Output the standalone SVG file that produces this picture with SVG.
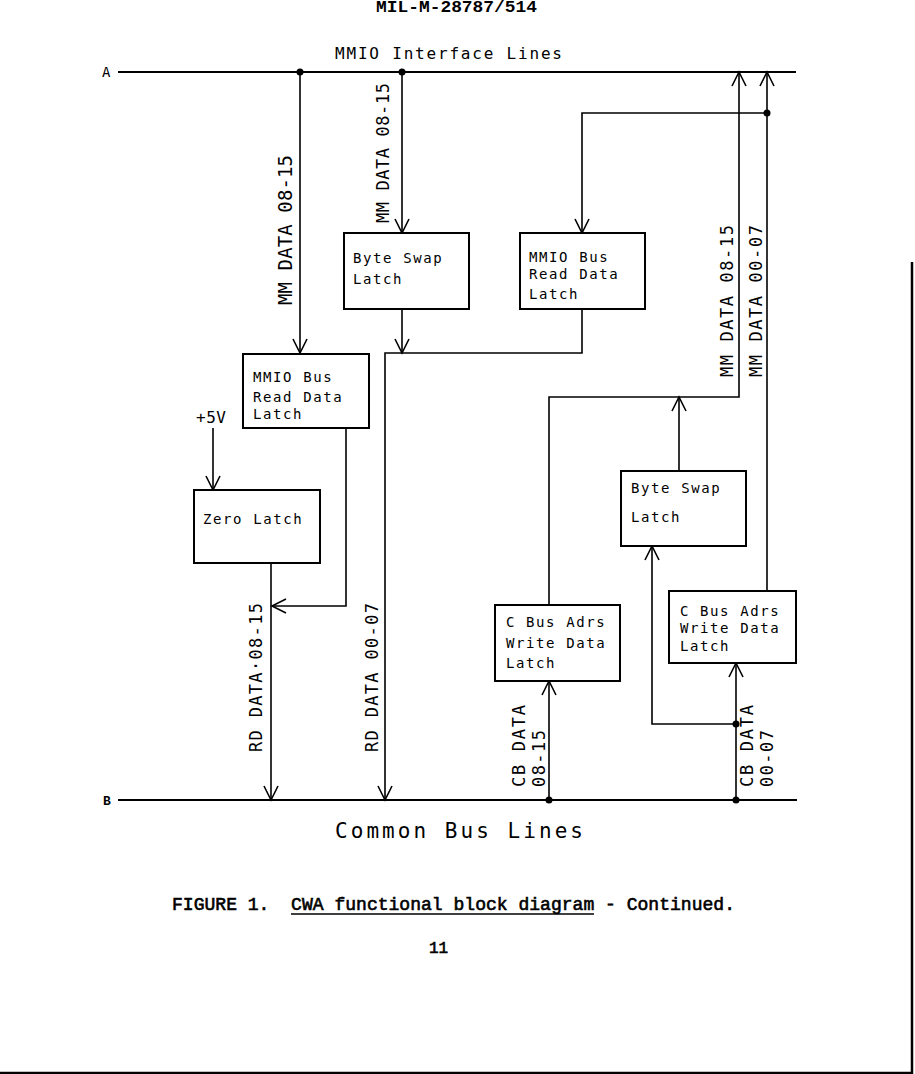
<svg xmlns="http://www.w3.org/2000/svg" width="915" height="1074" viewBox="0 0 915 1074">
<style>
.bus{stroke:#000;stroke-width:2;fill:none}
.w{stroke:#000;stroke-width:1.6;fill:none}
.box{stroke:#000;stroke-width:2;fill:#fff}
.bt{font-family:"DejaVu Sans Mono",monospace;font-size:14px;letter-spacing:1.6px;fill:#000}
.lb{font-family:"DejaVu Sans Mono",monospace;fill:#000}
.hd{font-family:"Liberation Mono","Courier New",monospace;font-weight:bold;fill:#000}
.cp{font-family:"Liberation Mono","Courier New",monospace;fill:#000;stroke:#000;stroke-width:0.6}
.dot{fill:#000}
</style>
<defs>
<marker id="v" markerUnits="userSpaceOnUse" markerWidth="20" markerHeight="20" viewBox="-16 -10 20 20" refX="0" refY="0" orient="auto">
<path d="M-14,-7 L0,0 L-14,7" stroke="#000" stroke-width="1.6" fill="none"/>
</marker>
</defs>
<rect width="915" height="1074" fill="#fff"/>
<text class="hd" x="376" y="12" font-size="17" textLength="161" lengthAdjust="spacingAndGlyphs">MIL-M-28787/514</text>
<g id="busA">
<path class="bus" d="M118,72 H796"/>
<text class="lb" x="102" y="77" font-size="14">A</text>
<text class="lb" x="335" y="59" font-size="16" textLength="227" lengthAdjust="spacing">MMIO Interface Lines</text>
</g>
<g id="busB">
<path class="bus" d="M118,800 H797"/>
<text class="hd" x="103" y="805" font-size="13">B</text>
<text class="lb" x="335" y="838" font-size="21" textLength="248" lengthAdjust="spacing">Common Bus Lines</text>
</g>
<g id="connectors">
<path class="w" d="M300,72 V353" marker-end="url(#v)"/>
<path class="w" d="M402,72 V233" marker-end="url(#v)"/>
<path class="w" d="M767,113 H582 V233" marker-end="url(#v)"/>
<path class="w" d="M402,309 V353" marker-end="url(#v)"/>
<path class="w" d="M582,309 V353 H385 V800" marker-end="url(#v)"/>
<path class="w" d="M346,428 V606 H272" marker-end="url(#v)"/>
<path class="w" d="M213,428 V490" marker-end="url(#v)"/>
<path class="w" d="M271,563 V800" marker-end="url(#v)"/>
<path class="w" d="M549,605 V397 H739 V72" marker-end="url(#v)"/>
<path class="w" d="M679,471 V397" marker-end="url(#v)"/>
<path class="w" d="M767,591 V72" marker-end="url(#v)"/>
<path class="w" d="M549,800 V681" marker-end="url(#v)"/>
<path class="w" d="M736,800 V663" marker-end="url(#v)"/>
<path class="w" d="M736,724 H652 V546" marker-end="url(#v)"/>
<circle class="dot" cx="300" cy="72" r="3.5"/>
<circle class="dot" cx="402" cy="72" r="3.5"/>
<circle class="dot" cx="767" cy="113" r="3.5"/>
<circle class="dot" cx="549" cy="800" r="3.5"/>
<circle class="dot" cx="736" cy="800" r="3.5"/>
<circle class="dot" cx="736" cy="724" r="3.5"/>
<text class="lb" transform="translate(292,305) rotate(-90)" font-size="19" textLength="150" lengthAdjust="spacing">MM DATA 08-15</text>
<text class="lb" transform="translate(389,223) rotate(-90)" font-size="17" textLength="140" lengthAdjust="spacing">MM DATA 08-15</text>
<text class="lb" transform="translate(733,377) rotate(-90)" font-size="17" textLength="152" lengthAdjust="spacing">MM DATA 08-15</text>
<text class="lb" transform="translate(762,377) rotate(-90)" font-size="17" textLength="152" lengthAdjust="spacing">MM DATA 00-07</text>
<text class="lb" transform="translate(262,752) rotate(-90)" font-size="17" textLength="149" lengthAdjust="spacing">RD DATA·08-15</text>
<text class="lb" transform="translate(378,752) rotate(-90)" font-size="17" textLength="149" lengthAdjust="spacing">RD DATA 00-07</text>
<text class="lb" transform="translate(525,787) rotate(-90)" font-size="17" textLength="82" lengthAdjust="spacing">CB DATA</text>
<text class="lb" transform="translate(545,787) rotate(-90)" font-size="17" textLength="57" lengthAdjust="spacing">08-15</text>
<text class="lb" transform="translate(753,787) rotate(-90)" font-size="17" textLength="82" lengthAdjust="spacing">CB DATA</text>
<text class="lb" transform="translate(773,787) rotate(-90)" font-size="17" textLength="57" lengthAdjust="spacing">00-07</text>
<text class="lb" x="196" y="423" font-size="16" textLength="30" lengthAdjust="spacing">+5V</text>
</g>
<g id="mmio-read-left">
<rect class="box" x="243" y="354" width="126" height="74"/>
<text class="bt" x="253" y="382">MMIO Bus</text>
<text class="bt" x="253" y="402">Read Data</text>
<text class="bt" x="253" y="419">Latch</text>
</g>
<g id="byte-swap-top">
<rect class="box" x="344" y="233" width="125" height="76"/>
<text class="bt" x="353" y="263">Byte Swap</text>
<text class="bt" x="353" y="284">Latch</text>
</g>
<g id="mmio-read-right">
<rect class="box" x="520" y="233" width="125" height="76"/>
<text class="bt" x="529" y="262">MMIO Bus</text>
<text class="bt" x="529" y="279">Read Data</text>
<text class="bt" x="529" y="299">Latch</text>
</g>
<g id="zero-latch">
<rect class="box" x="194" y="490" width="126" height="73"/>
<text class="bt" x="203" y="524">Zero Latch</text>
</g>
<g id="byte-swap-bottom">
<rect class="box" x="621" y="471" width="125" height="75"/>
<text class="bt" x="631" y="493">Byte Swap</text>
<text class="bt" x="631" y="522">Latch</text>
</g>
<g id="cbus-left">
<rect class="box" x="495" y="605" width="125" height="76"/>
<text class="bt" x="506" y="627">C Bus Adrs</text>
<text class="bt" x="506" y="648">Write Data</text>
<text class="bt" x="506" y="668">Latch</text>
</g>
<g id="cbus-right">
<rect class="box" x="669" y="591" width="127" height="72"/>
<text class="bt" x="680" y="616">C Bus Adrs</text>
<text class="bt" x="680" y="633">Write Data</text>
<text class="bt" x="680" y="651">Latch</text>
</g>
<g id="caption">
<text class="cp" x="172" y="910" font-size="18" textLength="563" lengthAdjust="spacingAndGlyphs" xml:space="preserve">FIGURE 1.  CWA functional block diagram - Continued.</text>
<path d="M291,914 H594" stroke="#000" stroke-width="1.5"/>
<text class="cp" x="429" y="953" font-size="16">11</text>
</g>
<path d="M912,262 V1074 M0,1073 H913" stroke="#000" stroke-width="2.5" fill="none"/>
</svg>
